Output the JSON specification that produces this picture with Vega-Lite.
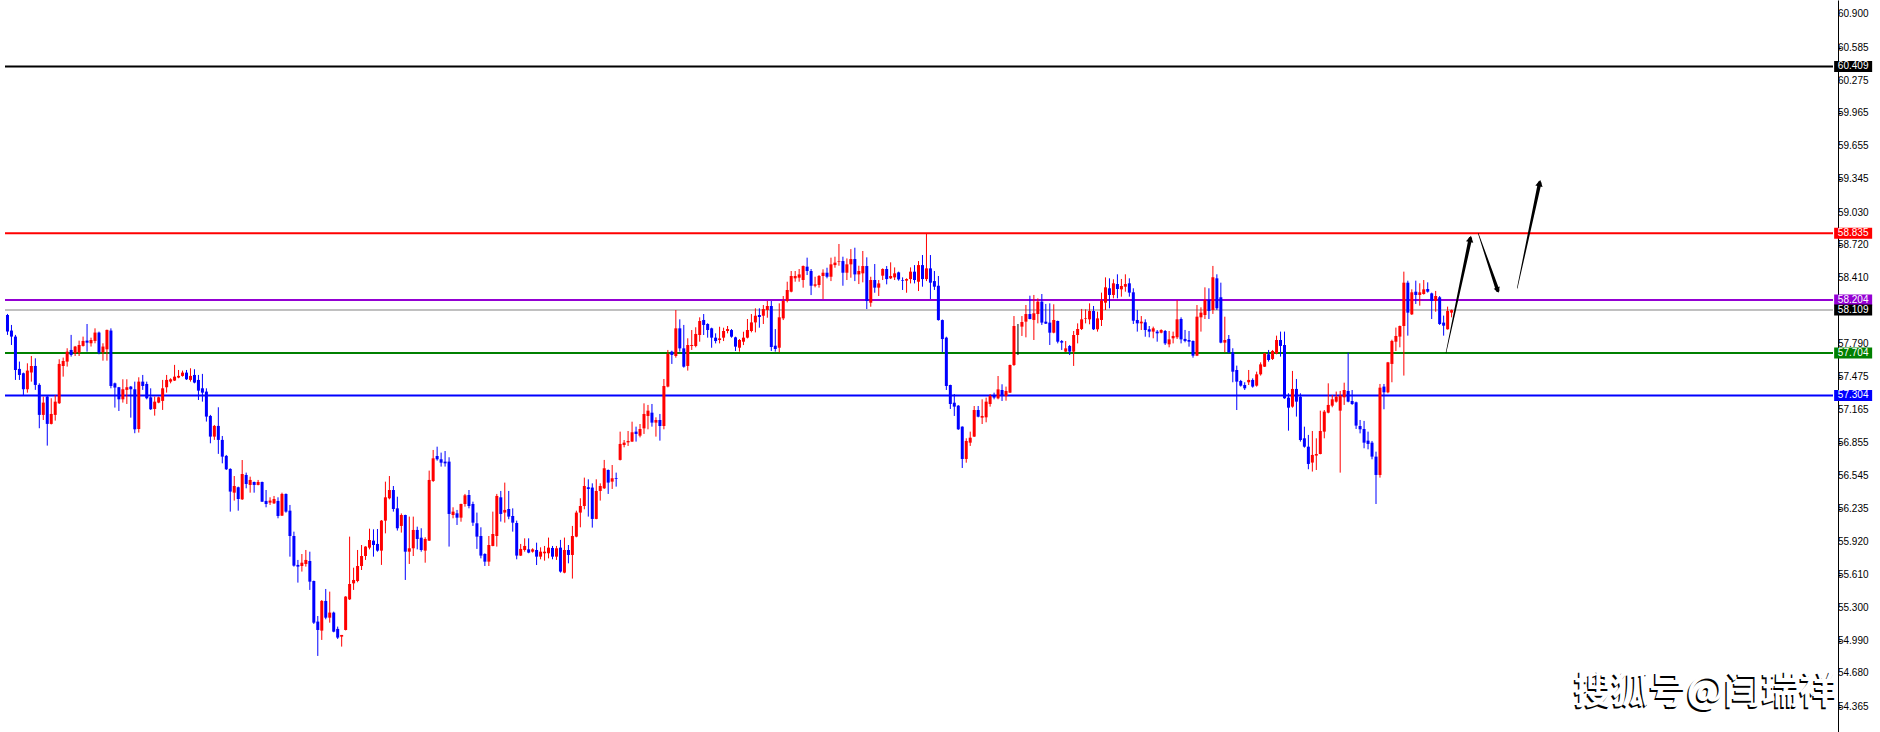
{
"$schema":"https://vega.github.io/schema/vega-lite/v6.json",
"width":1838,"height":732,
"autosize":{"type":"none"},
"padding":{"left":0,"top":0,"right":42,"bottom":0},
"background":"#ffffff",
"config":{"view":{"stroke":null}},
"datasets":{
"candles":[
{"i":0,"o":58.063,"h":58.073,"l":57.875,"c":57.906},
{"i":1,"o":57.916,"h":57.969,"l":57.780,"c":57.859},
{"i":2,"o":57.859,"h":57.875,"l":57.450,"c":57.544},
{"i":3,"o":57.554,"h":57.623,"l":57.450,"c":57.497},
{"i":4,"o":57.513,"h":57.519,"l":57.308,"c":57.362},
{"i":5,"o":57.362,"h":57.607,"l":57.330,"c":57.538},
{"i":6,"o":57.519,"h":57.676,"l":57.434,"c":57.582},
{"i":7,"o":57.582,"h":57.654,"l":57.356,"c":57.403},
{"i":8,"o":57.403,"h":57.418,"l":56.994,"c":57.120},
{"i":9,"o":57.120,"h":57.293,"l":57.072,"c":57.236},
{"i":10,"o":57.293,"h":57.305,"l":56.830,"c":57.035},
{"i":11,"o":57.035,"h":57.277,"l":57.030,"c":57.129},
{"i":12,"o":57.120,"h":57.308,"l":57.066,"c":57.245},
{"i":13,"o":57.230,"h":57.645,"l":57.223,"c":57.601},
{"i":14,"o":57.582,"h":57.661,"l":57.481,"c":57.629},
{"i":15,"o":57.623,"h":57.749,"l":57.576,"c":57.717},
{"i":16,"o":57.733,"h":57.875,"l":57.670,"c":57.686},
{"i":17,"o":57.702,"h":57.771,"l":57.676,"c":57.765},
{"i":18,"o":57.708,"h":57.821,"l":57.676,"c":57.780},
{"i":19,"o":57.771,"h":57.859,"l":57.765,"c":57.818},
{"i":20,"o":57.821,"h":57.978,"l":57.717,"c":57.802},
{"i":21,"o":57.796,"h":57.849,"l":57.765,"c":57.827},
{"i":22,"o":57.818,"h":57.937,"l":57.796,"c":57.897},
{"i":23,"o":57.897,"h":57.906,"l":57.692,"c":57.708},
{"i":24,"o":57.711,"h":57.796,"l":57.632,"c":57.765},
{"i":25,"o":57.739,"h":57.925,"l":57.632,"c":57.922},
{"i":26,"o":57.916,"h":57.937,"l":57.371,"c":57.393},
{"i":27,"o":57.418,"h":57.425,"l":57.189,"c":57.378},
{"i":28,"o":57.381,"h":57.384,"l":57.157,"c":57.267},
{"i":29,"o":57.267,"h":57.456,"l":57.236,"c":57.362},
{"i":30,"o":57.356,"h":57.456,"l":57.223,"c":57.381},
{"i":31,"o":57.387,"h":57.393,"l":57.094,"c":57.362},
{"i":32,"o":57.362,"h":57.434,"l":56.947,"c":56.984},
{"i":33,"o":56.987,"h":57.475,"l":56.953,"c":57.434},
{"i":34,"o":57.434,"h":57.497,"l":57.356,"c":57.393},
{"i":35,"o":57.412,"h":57.434,"l":57.267,"c":57.277},
{"i":36,"o":57.286,"h":57.371,"l":57.167,"c":57.173},
{"i":37,"o":57.176,"h":57.293,"l":57.113,"c":57.245},
{"i":38,"o":57.236,"h":57.293,"l":57.230,"c":57.286},
{"i":39,"o":57.252,"h":57.450,"l":57.167,"c":57.371},
{"i":40,"o":57.381,"h":57.497,"l":57.330,"c":57.450},
{"i":41,"o":57.434,"h":57.466,"l":57.418,"c":57.456},
{"i":42,"o":57.444,"h":57.592,"l":57.440,"c":57.481},
{"i":43,"o":57.472,"h":57.544,"l":57.466,"c":57.488},
{"i":44,"o":57.488,"h":57.538,"l":57.481,"c":57.519},
{"i":45,"o":57.519,"h":57.544,"l":57.450,"c":57.456},
{"i":46,"o":57.450,"h":57.560,"l":57.434,"c":57.488},
{"i":47,"o":57.497,"h":57.551,"l":57.418,"c":57.425},
{"i":48,"o":57.450,"h":57.497,"l":57.261,"c":57.349},
{"i":49,"o":57.371,"h":57.507,"l":57.245,"c":57.330},
{"i":50,"o":57.340,"h":57.371,"l":57.057,"c":57.104},
{"i":51,"o":57.110,"h":57.120,"l":56.852,"c":56.915},
{"i":52,"o":56.915,"h":57.025,"l":56.884,"c":57.016},
{"i":53,"o":57.016,"h":57.192,"l":56.752,"c":56.884},
{"i":54,"o":56.884,"h":56.921,"l":56.663,"c":56.726},
{"i":55,"o":56.733,"h":56.742,"l":56.600,"c":56.607},
{"i":56,"o":56.610,"h":56.616,"l":56.207,"c":56.396},
{"i":57,"o":56.386,"h":56.543,"l":56.311,"c":56.449},
{"i":58,"o":56.437,"h":56.443,"l":56.216,"c":56.326},
{"i":59,"o":56.323,"h":56.694,"l":56.317,"c":56.562},
{"i":60,"o":56.553,"h":56.575,"l":56.427,"c":56.468},
{"i":61,"o":56.459,"h":56.537,"l":56.386,"c":56.506},
{"i":62,"o":56.487,"h":56.490,"l":56.386,"c":56.459},
{"i":63,"o":56.459,"h":56.506,"l":56.455,"c":56.487},
{"i":64,"o":56.487,"h":56.490,"l":56.298,"c":56.301},
{"i":65,"o":56.308,"h":56.411,"l":56.248,"c":56.279},
{"i":66,"o":56.292,"h":56.342,"l":56.270,"c":56.311},
{"i":67,"o":56.285,"h":56.355,"l":56.279,"c":56.326},
{"i":68,"o":56.308,"h":56.342,"l":56.144,"c":56.166},
{"i":69,"o":56.169,"h":56.386,"l":56.166,"c":56.374},
{"i":70,"o":56.374,"h":56.378,"l":56.197,"c":56.207},
{"i":71,"o":56.216,"h":56.270,"l":55.782,"c":55.977},
{"i":72,"o":55.977,"h":56.018,"l":55.688,"c":55.697},
{"i":73,"o":55.704,"h":55.751,"l":55.537,"c":55.688},
{"i":74,"o":55.694,"h":55.807,"l":55.641,"c":55.725},
{"i":75,"o":55.713,"h":55.845,"l":55.688,"c":55.751},
{"i":76,"o":55.741,"h":55.829,"l":55.468,"c":55.546},
{"i":77,"o":55.552,"h":55.556,"l":55.147,"c":55.159},
{"i":78,"o":55.169,"h":55.222,"l":54.845,"c":55.090},
{"i":79,"o":55.084,"h":55.373,"l":54.996,"c":55.364},
{"i":80,"o":55.364,"h":55.477,"l":55.191,"c":55.206},
{"i":81,"o":55.206,"h":55.452,"l":55.159,"c":55.254},
{"i":82,"o":55.254,"h":55.263,"l":55.068,"c":55.074},
{"i":83,"o":55.100,"h":55.122,"l":55.005,"c":55.018},
{"i":84,"o":55.027,"h":55.043,"l":54.933,"c":55.043},
{"i":85,"o":55.090,"h":55.409,"l":55.086,"c":55.405},
{"i":86,"o":55.379,"h":55.971,"l":55.373,"c":55.524},
{"i":87,"o":55.530,"h":55.678,"l":55.468,"c":55.562},
{"i":88,"o":55.552,"h":55.845,"l":55.540,"c":55.694},
{"i":89,"o":55.694,"h":55.892,"l":55.656,"c":55.788},
{"i":90,"o":55.788,"h":55.880,"l":55.751,"c":55.877},
{"i":91,"o":55.867,"h":56.046,"l":55.851,"c":55.939},
{"i":92,"o":55.933,"h":56.040,"l":55.782,"c":55.892},
{"i":93,"o":55.902,"h":56.043,"l":55.829,"c":55.839},
{"i":94,"o":55.839,"h":56.128,"l":55.704,"c":56.122},
{"i":95,"o":56.122,"h":56.490,"l":56.002,"c":56.342},
{"i":96,"o":56.333,"h":56.543,"l":56.323,"c":56.411},
{"i":97,"o":56.411,"h":56.449,"l":56.207,"c":56.232},
{"i":98,"o":56.238,"h":56.348,"l":56.028,"c":56.050},
{"i":99,"o":56.072,"h":56.190,"l":56.009,"c":56.175},
{"i":100,"o":56.175,"h":56.178,"l":55.562,"c":55.829},
{"i":101,"o":55.829,"h":56.160,"l":55.713,"c":55.861},
{"i":102,"o":55.861,"h":56.160,"l":55.788,"c":56.034},
{"i":103,"o":56.034,"h":56.065,"l":55.851,"c":55.949},
{"i":104,"o":55.961,"h":56.050,"l":55.829,"c":55.845},
{"i":105,"o":55.839,"h":55.965,"l":55.725,"c":55.949},
{"i":106,"o":55.933,"h":56.594,"l":55.930,"c":56.506},
{"i":107,"o":56.496,"h":56.789,"l":56.487,"c":56.710},
{"i":108,"o":56.732,"h":56.820,"l":56.688,"c":56.701},
{"i":109,"o":56.701,"h":56.764,"l":56.632,"c":56.669},
{"i":110,"o":56.679,"h":56.779,"l":56.632,"c":56.663},
{"i":111,"o":56.679,"h":56.720,"l":55.877,"c":56.185},
{"i":112,"o":56.175,"h":56.248,"l":56.144,"c":56.207},
{"i":113,"o":56.191,"h":56.223,"l":56.081,"c":56.150},
{"i":114,"o":56.150,"h":56.282,"l":56.112,"c":56.279},
{"i":115,"o":56.279,"h":56.374,"l":56.254,"c":56.361},
{"i":116,"o":56.364,"h":56.411,"l":56.238,"c":56.260},
{"i":117,"o":56.279,"h":56.301,"l":56.072,"c":56.103},
{"i":118,"o":56.097,"h":56.198,"l":55.855,"c":55.971},
{"i":119,"o":55.977,"h":56.059,"l":55.766,"c":55.792},
{"i":120,"o":55.807,"h":55.814,"l":55.694,"c":55.735},
{"i":121,"o":55.735,"h":55.977,"l":55.694,"c":55.892},
{"i":122,"o":55.883,"h":56.207,"l":55.880,"c":55.996},
{"i":123,"o":55.977,"h":56.374,"l":55.877,"c":56.355},
{"i":124,"o":56.342,"h":56.402,"l":56.113,"c":56.185},
{"i":125,"o":56.198,"h":56.481,"l":56.103,"c":56.223},
{"i":126,"o":56.232,"h":56.402,"l":56.135,"c":56.160},
{"i":127,"o":56.166,"h":56.238,"l":56.018,"c":56.103},
{"i":128,"o":56.100,"h":56.122,"l":55.757,"c":55.792},
{"i":129,"o":55.792,"h":55.902,"l":55.788,"c":55.855},
{"i":130,"o":55.845,"h":55.955,"l":55.829,"c":55.883},
{"i":131,"o":55.851,"h":55.955,"l":55.814,"c":55.820},
{"i":132,"o":55.829,"h":55.861,"l":55.820,"c":55.851},
{"i":133,"o":55.845,"h":55.914,"l":55.703,"c":55.782},
{"i":134,"o":55.782,"h":55.870,"l":55.757,"c":55.829},
{"i":135,"o":55.814,"h":55.883,"l":55.744,"c":55.829},
{"i":136,"o":55.814,"h":55.962,"l":55.766,"c":55.867},
{"i":137,"o":55.864,"h":55.883,"l":55.757,"c":55.782},
{"i":138,"o":55.782,"h":55.883,"l":55.751,"c":55.861},
{"i":139,"o":55.867,"h":55.940,"l":55.631,"c":55.641},
{"i":140,"o":55.631,"h":55.962,"l":55.625,"c":55.845},
{"i":141,"o":55.845,"h":55.892,"l":55.719,"c":55.798},
{"i":142,"o":55.798,"h":56.072,"l":55.575,"c":55.977},
{"i":143,"o":55.971,"h":56.216,"l":55.965,"c":56.198},
{"i":144,"o":56.198,"h":56.333,"l":56.059,"c":56.260},
{"i":145,"o":56.260,"h":56.528,"l":56.229,"c":56.449},
{"i":146,"o":56.437,"h":56.512,"l":56.160,"c":56.421},
{"i":147,"o":56.434,"h":56.474,"l":56.056,"c":56.138},
{"i":148,"o":56.138,"h":56.512,"l":56.135,"c":56.402},
{"i":149,"o":56.402,"h":56.474,"l":56.311,"c":56.449},
{"i":150,"o":56.427,"h":56.695,"l":56.421,"c":56.616},
{"i":151,"o":56.600,"h":56.605,"l":56.374,"c":56.481},
{"i":152,"o":56.490,"h":56.647,"l":56.421,"c":56.522},
{"i":153,"o":56.522,"h":56.575,"l":56.443,"c":56.515},
{"i":154,"o":56.695,"h":56.962,"l":56.690,"c":56.846},
{"i":155,"o":56.836,"h":56.883,"l":56.814,"c":56.858},
{"i":156,"o":56.861,"h":56.968,"l":56.827,"c":56.874},
{"i":157,"o":56.868,"h":57.056,"l":56.865,"c":56.956},
{"i":158,"o":56.962,"h":57.009,"l":56.868,"c":56.940},
{"i":159,"o":56.924,"h":57.034,"l":56.908,"c":56.987},
{"i":160,"o":56.993,"h":57.229,"l":56.940,"c":57.129},
{"i":161,"o":57.110,"h":57.214,"l":56.984,"c":57.160},
{"i":162,"o":57.141,"h":57.223,"l":57.009,"c":57.047},
{"i":163,"o":57.047,"h":57.097,"l":56.915,"c":57.072},
{"i":164,"o":57.072,"h":57.129,"l":56.877,"c":57.015},
{"i":165,"o":57.015,"h":57.459,"l":56.984,"c":57.393},
{"i":166,"o":57.387,"h":57.733,"l":57.380,"c":57.695},
{"i":167,"o":57.717,"h":57.726,"l":57.601,"c":57.686},
{"i":168,"o":57.676,"h":58.110,"l":57.660,"c":57.937},
{"i":169,"o":57.937,"h":58.022,"l":57.717,"c":57.748},
{"i":170,"o":57.748,"h":57.969,"l":57.566,"c":57.575},
{"i":171,"o":57.582,"h":57.843,"l":57.538,"c":57.780},
{"i":172,"o":57.770,"h":57.921,"l":57.733,"c":57.780},
{"i":173,"o":57.770,"h":57.947,"l":57.758,"c":57.884},
{"i":174,"o":57.874,"h":58.041,"l":57.811,"c":58.006},
{"i":175,"o":58.016,"h":58.072,"l":57.874,"c":57.969},
{"i":176,"o":57.978,"h":57.985,"l":57.849,"c":57.921},
{"i":177,"o":57.937,"h":57.943,"l":57.754,"c":57.849},
{"i":178,"o":57.849,"h":57.890,"l":57.795,"c":57.817},
{"i":179,"o":57.827,"h":57.952,"l":57.795,"c":57.842},
{"i":180,"o":57.849,"h":57.943,"l":57.817,"c":57.912},
{"i":181,"o":57.912,"h":57.959,"l":57.890,"c":57.930},
{"i":182,"o":57.921,"h":57.930,"l":57.849,"c":57.858},
{"i":183,"o":57.852,"h":57.858,"l":57.723,"c":57.764},
{"i":184,"o":57.754,"h":57.836,"l":57.717,"c":57.827},
{"i":185,"o":57.811,"h":57.905,"l":57.779,"c":57.849},
{"i":186,"o":57.849,"h":58.025,"l":57.842,"c":57.921},
{"i":187,"o":57.912,"h":58.072,"l":57.899,"c":57.993},
{"i":188,"o":57.993,"h":58.126,"l":57.899,"c":58.056},
{"i":189,"o":58.063,"h":58.126,"l":57.943,"c":58.044},
{"i":190,"o":58.056,"h":58.157,"l":57.978,"c":58.119},
{"i":191,"o":58.110,"h":58.195,"l":58.037,"c":58.148},
{"i":192,"o":58.148,"h":58.195,"l":57.723,"c":57.761},
{"i":193,"o":57.773,"h":57.930,"l":57.717,"c":57.742},
{"i":194,"o":57.754,"h":58.173,"l":57.710,"c":58.041},
{"i":195,"o":58.031,"h":58.242,"l":58.015,"c":58.195},
{"i":196,"o":58.195,"h":58.377,"l":58.182,"c":58.299},
{"i":197,"o":58.283,"h":58.478,"l":58.277,"c":58.431},
{"i":198,"o":58.409,"h":58.478,"l":58.377,"c":58.431},
{"i":199,"o":58.415,"h":58.497,"l":58.377,"c":58.446},
{"i":200,"o":58.393,"h":58.530,"l":58.321,"c":58.525},
{"i":201,"o":58.519,"h":58.604,"l":58.440,"c":58.478},
{"i":202,"o":58.478,"h":58.497,"l":58.251,"c":58.339},
{"i":203,"o":58.339,"h":58.424,"l":58.324,"c":58.352},
{"i":204,"o":58.346,"h":58.440,"l":58.321,"c":58.431},
{"i":205,"o":58.431,"h":58.494,"l":58.214,"c":58.462},
{"i":206,"o":58.462,"h":58.509,"l":58.409,"c":58.424},
{"i":207,"o":58.424,"h":58.604,"l":58.383,"c":58.541},
{"i":208,"o":58.534,"h":58.613,"l":58.509,"c":58.557},
{"i":209,"o":58.566,"h":58.733,"l":58.528,"c":58.572},
{"i":210,"o":58.572,"h":58.613,"l":58.339,"c":58.462},
{"i":211,"o":58.462,"h":58.597,"l":58.393,"c":58.541},
{"i":212,"o":58.541,"h":58.685,"l":58.415,"c":58.591},
{"i":213,"o":58.591,"h":58.698,"l":58.383,"c":58.446},
{"i":214,"o":58.446,"h":58.528,"l":58.355,"c":58.478},
{"i":215,"o":58.456,"h":58.667,"l":58.371,"c":58.525},
{"i":216,"o":58.525,"h":58.607,"l":58.119,"c":58.195},
{"i":217,"o":58.179,"h":58.424,"l":58.141,"c":58.393},
{"i":218,"o":58.393,"h":58.544,"l":58.273,"c":58.321},
{"i":219,"o":58.321,"h":58.393,"l":58.242,"c":58.361},
{"i":220,"o":58.434,"h":58.503,"l":58.393,"c":58.497},
{"i":221,"o":58.497,"h":58.525,"l":58.352,"c":58.402},
{"i":222,"o":58.409,"h":58.560,"l":58.402,"c":58.431},
{"i":223,"o":58.418,"h":58.512,"l":58.393,"c":58.456},
{"i":224,"o":58.465,"h":58.472,"l":58.387,"c":58.399},
{"i":225,"o":58.393,"h":58.418,"l":58.299,"c":58.387},
{"i":226,"o":58.387,"h":58.409,"l":58.273,"c":58.402},
{"i":227,"o":58.402,"h":58.512,"l":58.361,"c":58.472},
{"i":228,"o":58.472,"h":58.534,"l":58.361,"c":58.393},
{"i":229,"o":58.377,"h":58.572,"l":58.289,"c":58.534},
{"i":230,"o":58.534,"h":58.629,"l":58.330,"c":58.402},
{"i":231,"o":58.402,"h":58.833,"l":58.383,"c":58.503},
{"i":232,"o":58.503,"h":58.629,"l":58.214,"c":58.368},
{"i":233,"o":58.383,"h":58.478,"l":58.299,"c":58.330},
{"i":234,"o":58.339,"h":58.431,"l":58.010,"c":58.015},
{"i":235,"o":58.015,"h":58.020,"l":57.710,"c":57.836},
{"i":236,"o":57.849,"h":57.858,"l":57.355,"c":57.393},
{"i":237,"o":57.402,"h":57.405,"l":57.176,"c":57.223},
{"i":238,"o":57.235,"h":57.317,"l":57.110,"c":57.198},
{"i":239,"o":57.207,"h":57.213,"l":56.978,"c":56.984},
{"i":240,"o":57.009,"h":57.012,"l":56.619,"c":56.704},
{"i":241,"o":56.704,"h":56.899,"l":56.669,"c":56.874},
{"i":242,"o":56.858,"h":56.962,"l":56.827,"c":56.905},
{"i":243,"o":56.915,"h":57.204,"l":56.912,"c":57.166},
{"i":244,"o":57.166,"h":57.204,"l":57.097,"c":57.103},
{"i":245,"o":57.094,"h":57.267,"l":57.034,"c":57.110},
{"i":246,"o":57.097,"h":57.283,"l":57.050,"c":57.245},
{"i":247,"o":57.223,"h":57.317,"l":57.198,"c":57.298},
{"i":248,"o":57.298,"h":57.330,"l":57.267,"c":57.283},
{"i":249,"o":57.276,"h":57.487,"l":57.267,"c":57.361},
{"i":250,"o":57.355,"h":57.409,"l":57.251,"c":57.298},
{"i":251,"o":57.298,"h":57.387,"l":57.254,"c":57.346},
{"i":252,"o":57.330,"h":57.595,"l":57.327,"c":57.591},
{"i":253,"o":57.591,"h":58.053,"l":57.582,"c":57.959},
{"i":254,"o":57.959,"h":57.978,"l":57.685,"c":57.959},
{"i":255,"o":57.953,"h":58.053,"l":57.865,"c":57.997},
{"i":256,"o":58.000,"h":58.157,"l":57.852,"c":58.072},
{"i":257,"o":58.072,"h":58.245,"l":58.022,"c":58.025},
{"i":258,"o":58.016,"h":58.252,"l":57.827,"c":58.079},
{"i":259,"o":58.072,"h":58.220,"l":57.984,"c":58.189},
{"i":260,"o":58.189,"h":58.261,"l":57.969,"c":57.991},
{"i":261,"o":58.000,"h":58.167,"l":57.978,"c":57.981},
{"i":262,"o":57.991,"h":58.173,"l":57.780,"c":57.896},
{"i":263,"o":57.896,"h":58.164,"l":57.890,"c":58.016},
{"i":264,"o":58.006,"h":58.010,"l":57.795,"c":57.811},
{"i":265,"o":57.817,"h":57.827,"l":57.733,"c":57.802},
{"i":266,"o":57.717,"h":57.817,"l":57.714,"c":57.748},
{"i":267,"o":57.770,"h":57.780,"l":57.685,"c":57.717},
{"i":268,"o":57.717,"h":57.912,"l":57.582,"c":57.874},
{"i":269,"o":57.874,"h":57.984,"l":57.795,"c":57.931},
{"i":270,"o":57.931,"h":58.120,"l":57.921,"c":58.022},
{"i":271,"o":58.025,"h":58.116,"l":57.984,"c":58.031},
{"i":272,"o":58.022,"h":58.173,"l":57.975,"c":58.101},
{"i":273,"o":58.101,"h":58.148,"l":57.921,"c":57.928},
{"i":274,"o":57.928,"h":58.094,"l":57.906,"c":58.031},
{"i":275,"o":58.016,"h":58.274,"l":57.959,"c":58.198},
{"i":276,"o":58.179,"h":58.418,"l":58.110,"c":58.324},
{"i":277,"o":58.315,"h":58.409,"l":58.126,"c":58.252},
{"i":278,"o":58.252,"h":58.400,"l":58.220,"c":58.362},
{"i":279,"o":58.355,"h":58.447,"l":58.220,"c":58.308},
{"i":280,"o":58.305,"h":58.403,"l":58.236,"c":58.337},
{"i":281,"o":58.330,"h":58.447,"l":58.283,"c":58.355},
{"i":282,"o":58.362,"h":58.409,"l":58.236,"c":58.274},
{"i":283,"o":58.277,"h":58.315,"l":57.978,"c":58.009},
{"i":284,"o":58.016,"h":58.110,"l":57.906,"c":57.984},
{"i":285,"o":57.984,"h":58.053,"l":57.921,"c":58.000},
{"i":286,"o":57.994,"h":58.022,"l":57.858,"c":57.921},
{"i":287,"o":57.928,"h":57.959,"l":57.852,"c":57.906},
{"i":288,"o":57.906,"h":57.953,"l":57.843,"c":57.937},
{"i":289,"o":57.906,"h":57.921,"l":57.811,"c":57.890},
{"i":290,"o":57.896,"h":57.928,"l":57.890,"c":57.921},
{"i":291,"o":57.912,"h":57.921,"l":57.780,"c":57.795},
{"i":292,"o":57.786,"h":57.912,"l":57.758,"c":57.833},
{"i":293,"o":57.843,"h":57.906,"l":57.795,"c":57.865},
{"i":294,"o":57.852,"h":58.204,"l":57.836,"c":58.022},
{"i":295,"o":58.025,"h":58.041,"l":57.795,"c":57.833},
{"i":296,"o":57.837,"h":57.922,"l":57.805,"c":57.818},
{"i":297,"o":57.827,"h":57.912,"l":57.764,"c":57.811},
{"i":298,"o":57.818,"h":57.822,"l":57.660,"c":57.679},
{"i":299,"o":57.679,"h":58.157,"l":57.675,"c":58.047},
{"i":300,"o":58.041,"h":58.135,"l":57.906,"c":58.085},
{"i":301,"o":58.063,"h":58.324,"l":58.025,"c":58.205},
{"i":302,"o":58.205,"h":58.315,"l":58.025,"c":58.101},
{"i":303,"o":58.110,"h":58.526,"l":58.073,"c":58.419},
{"i":304,"o":58.409,"h":58.447,"l":58.110,"c":58.126},
{"i":305,"o":58.230,"h":58.368,"l":57.796,"c":57.802},
{"i":306,"o":57.802,"h":58.047,"l":57.711,"c":57.827},
{"i":307,"o":57.837,"h":57.874,"l":57.701,"c":57.711},
{"i":308,"o":57.711,"h":57.749,"l":57.428,"c":57.528},
{"i":309,"o":57.544,"h":57.585,"l":57.166,"c":57.434},
{"i":310,"o":57.440,"h":57.450,"l":57.387,"c":57.396},
{"i":311,"o":57.402,"h":57.428,"l":57.355,"c":57.371},
{"i":312,"o":57.428,"h":57.544,"l":57.402,"c":57.450},
{"i":313,"o":57.450,"h":57.465,"l":57.377,"c":57.387},
{"i":314,"o":57.396,"h":57.528,"l":57.387,"c":57.503},
{"i":315,"o":57.503,"h":57.616,"l":57.491,"c":57.597},
{"i":316,"o":57.575,"h":57.705,"l":57.572,"c":57.701},
{"i":317,"o":57.692,"h":57.733,"l":57.623,"c":57.638},
{"i":318,"o":57.648,"h":57.733,"l":57.638,"c":57.723},
{"i":319,"o":57.701,"h":57.868,"l":57.692,"c":57.827},
{"i":320,"o":57.827,"h":57.906,"l":57.670,"c":57.771},
{"i":321,"o":57.780,"h":57.906,"l":57.272,"c":57.277},
{"i":322,"o":57.283,"h":57.324,"l":56.971,"c":57.188},
{"i":323,"o":57.198,"h":57.535,"l":57.188,"c":57.365},
{"i":324,"o":57.365,"h":57.459,"l":57.104,"c":57.245},
{"i":325,"o":57.292,"h":57.324,"l":56.868,"c":56.883},
{"i":326,"o":56.899,"h":57.009,"l":56.811,"c":56.820},
{"i":327,"o":56.820,"h":56.931,"l":56.607,"c":56.657},
{"i":328,"o":56.670,"h":56.968,"l":56.585,"c":56.742},
{"i":329,"o":56.736,"h":56.899,"l":56.600,"c":56.751},
{"i":330,"o":56.751,"h":57.160,"l":56.748,"c":56.968},
{"i":331,"o":56.962,"h":57.166,"l":56.899,"c":57.151},
{"i":332,"o":57.141,"h":57.418,"l":57.135,"c":57.214},
{"i":333,"o":57.207,"h":57.308,"l":57.192,"c":57.267},
{"i":334,"o":57.245,"h":57.340,"l":57.236,"c":57.292},
{"i":335,"o":57.160,"h":57.346,"l":56.575,"c":57.302},
{"i":336,"o":57.286,"h":57.424,"l":57.214,"c":57.355},
{"i":337,"o":57.346,"h":57.708,"l":57.239,"c":57.245},
{"i":338,"o":57.251,"h":57.355,"l":57.214,"c":57.223},
{"i":339,"o":57.239,"h":57.245,"l":56.987,"c":57.019},
{"i":340,"o":57.015,"h":57.072,"l":56.946,"c":56.984},
{"i":341,"o":56.987,"h":57.063,"l":56.805,"c":56.858},
{"i":342,"o":56.877,"h":56.962,"l":56.795,"c":56.846},
{"i":343,"o":56.858,"h":56.874,"l":56.701,"c":56.726},
{"i":344,"o":56.726,"h":56.773,"l":56.279,"c":56.553},
{"i":345,"o":56.553,"h":57.412,"l":56.528,"c":57.377},
{"i":346,"o":57.387,"h":57.412,"l":57.173,"c":57.333},
{"i":347,"o":57.333,"h":57.620,"l":57.324,"c":57.616},
{"i":348,"o":57.601,"h":57.830,"l":57.428,"c":57.818},
{"i":349,"o":57.811,"h":57.944,"l":57.723,"c":57.865},
{"i":350,"o":57.859,"h":57.963,"l":57.758,"c":57.959},
{"i":351,"o":57.959,"h":58.472,"l":57.491,"c":58.368},
{"i":352,"o":58.368,"h":58.387,"l":57.868,"c":58.085},
{"i":353,"o":58.069,"h":58.305,"l":58.063,"c":58.277},
{"i":354,"o":58.283,"h":58.387,"l":58.167,"c":58.252},
{"i":355,"o":58.252,"h":58.362,"l":58.151,"c":58.277},
{"i":356,"o":58.261,"h":58.393,"l":58.255,"c":58.305},
{"i":357,"o":58.308,"h":58.371,"l":58.274,"c":58.283},
{"i":358,"o":58.267,"h":58.274,"l":58.025,"c":58.195},
{"i":359,"o":58.195,"h":58.290,"l":58.094,"c":58.242},
{"i":360,"o":58.230,"h":58.242,"l":57.969,"c":57.978},
{"i":361,"o":57.991,"h":58.057,"l":57.868,"c":57.962},
{"i":362,"o":57.928,"h":58.142,"l":57.925,"c":58.101},
{"i":363,"o":58.085,"h":58.115,"l":58.041,"c":58.109}
],
"levels":[
{"name":"a","p":60.409},{"name":"b","p":58.835},{"name":"c","p":58.204},
{"name":"d","p":58.109},{"name":"e","p":57.704},{"name":"f","p":57.304}
],
"ticks":[
{"v":60.9},{"v":60.585},{"v":60.275},{"v":59.965},{"v":59.655},{"v":59.345},{"v":59.03},{"v":58.72},{"v":58.41},{"v":57.79},{"v":57.475},{"v":57.165},{"v":56.855},{"v":56.545},{"v":56.235},{"v":55.92},{"v":55.61},{"v":55.3},{"v":54.99},{"v":54.68},{"v":54.365}
],
"arrows":[
{"a":1,"k":0,"x":361.6,"p":57.707},{"a":1,"k":1,"x":367.7,"p":58.781},
{"a":2,"k":0,"x":369.7,"p":58.834},{"a":2,"k":1,"x":374.57,"p":58.297},
{"a":3,"k":0,"x":379.5,"p":58.315},{"a":3,"k":1,"x":385.13,"p":59.307}
]
},
"layer":[
{
"data":{"name":"levels"},
"mark":{"type":"rule"},
"encoding":{
"x":{"datum":-0.625,"type":"quantitative","scale":{"domain":[-0.625,458.875],"nice":false,"zero":false},"axis":null},
"x2":{"datum":458.875},
"y":{"field":"p","type":"quantitative","title":null,
"scale":{"domain":[54.127,61.036],"nice":false,"zero":false},
"axis":{"orient":"right","values":[60.9,60.585,60.275,59.965,59.655,59.345,59.03,58.72,58.41,58.1,57.79,57.475,57.165,56.855,56.545,56.235,55.92,55.61,55.3,54.99,54.68,54.365],
"grid":false,"domain":true,"domainColor":"#000000","domainWidth":1,"ticks":true,"tickColor":"#000000","tickSize":3,"labels":false,"title":null}},
"stroke":{"field":"name","type":"nominal","scale":{"domain":["a","b","c","d","e","f"],"range":["#000000","#ff0000","#9400d3","#c0c0c0","#008000","#0000ff"]},"legend":null},
"strokeWidth":{"field":"name","type":"nominal","scale":{"domain":["a","b","c","d","e","f"],"range":[2,2,2,1,2,2]},"legend":null}
}
},
{
"data":{"name":"candles"},
"mark":{"type":"rule","strokeWidth":1},
"encoding":{
"x":{"field":"i","type":"quantitative","axis":null},
"y":{"field":"l","type":"quantitative","title":null},
"y2":{"field":"h"},
"color":{"condition":[{"test":"datum.c > datum.o","value":"#ff0000"},{"test":"datum.c == datum.o","value":"#000000"}],"value":"#0000ff"}
}
},
{
"data":{"name":"candles"},
"mark":{"type":"bar","size":3},
"encoding":{
"x":{"field":"i","type":"quantitative","axis":null},
"y":{"field":"o","type":"quantitative","title":null},
"y2":{"field":"c"},
"color":{"condition":[{"test":"datum.c > datum.o","value":"#ff0000"},{"test":"datum.c == datum.o","value":"#000000"}],"value":"#0000ff"}
}
},
{
"data":{"name":"arrows"},
"mark":{"type":"trail","color":"#000000"},
"encoding":{
"x":{"field":"x","type":"quantitative","axis":null},
"y":{"field":"p","type":"quantitative","title":null},
"detail":{"field":"a","type":"nominal"},
"order":{"field":"k","type":"quantitative"},
"size":{"field":"k","type":"quantitative","scale":{"domain":[0,1],"range":[0.6,3.6]},"legend":null}
}
},
{
"data":{"values":[{"a":1,"x":367.7,"p":58.781},{"a":3,"x":385.13,"p":59.307}]},
"mark":{"type":"point","shape":"triangle-up","angle":12,"filled":true,"color":"#000000","size":55,"opacity":1},
"encoding":{
"x":{"field":"x","type":"quantitative","axis":null},
"y":{"field":"p","type":"quantitative","title":null}
}
},
{
"data":{"values":[{"a":2,"x":374.57,"p":58.297}]},
"mark":{"type":"point","shape":"triangle-down","angle":341,"filled":true,"color":"#000000","size":40,"opacity":1},
"encoding":{
"x":{"field":"x","type":"quantitative","axis":null},
"y":{"field":"p","type":"quantitative","title":null}
}
},
{
"data":{"name":"ticks"},
"mark":{"type":"text","font":"Liberation Sans","fontSize":10,"color":"#000000","align":"left","baseline":"middle","clip":false},
"encoding":{
"x":{"datum":460.125,"type":"quantitative"},
"y":{"field":"v","type":"quantitative","title":null},
"text":{"field":"v","type":"quantitative","format":".3f"}
}
},
{
"data":{"name":"levels"},
"mark":{"type":"tick","orient":"horizontal","size":38,"thickness":11,"filled":true,"opacity":1,"clip":false},
"encoding":{
"x":{"datum":463.94,"type":"quantitative"},
"y":{"field":"p","type":"quantitative","title":null},
"fill":{"field":"name","type":"nominal","scale":{"domain":["a","b","c","d","e","f"],"range":["#000000","#ff0000","#9400d3","#000000","#008000","#0000ff"]},"legend":null}
}
},
{
"data":{"name":"levels"},
"mark":{"type":"text","font":"Liberation Sans","fontSize":10,"color":"#ffffff","align":"center","baseline":"middle","clip":false},
"encoding":{
"x":{"datum":463.94,"type":"quantitative"},
"y":{"field":"p","type":"quantitative","title":null},
"text":{"field":"p","type":"quantitative","format":".3f"}
}
},
{
"data":{"values":[{"t":"搜狐号@闫瑞祥"}]},
"mark":{"type":"text","font":"Noto Sans CJK SC","fontSize":37.5,"fontWeight":"bold","color":"#000000","align":"right","baseline":"middle","dx":-1.5,"dy":1.5},
"encoding":{
"x":{"datum":459.8,"type":"quantitative"},
"y":{"datum":54.5,"type":"quantitative"},
"text":{"field":"t","type":"nominal"}
}
},
{
"data":{"values":[{"t":"搜狐号@闫瑞祥"}]},
"mark":{"type":"text","font":"Noto Sans CJK SC","fontSize":37.5,"fontWeight":"bold","color":"#ffffff","align":"right","baseline":"middle"},
"encoding":{
"x":{"datum":459.8,"type":"quantitative"},
"y":{"datum":54.5,"type":"quantitative"},
"text":{"field":"t","type":"nominal"}
}
}
]
}
